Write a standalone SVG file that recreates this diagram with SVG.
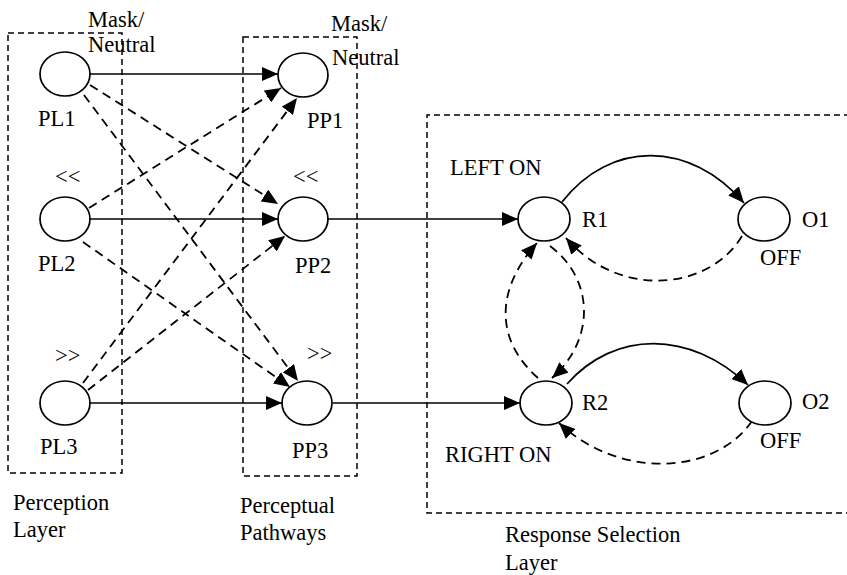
<svg xmlns="http://www.w3.org/2000/svg" width="847" height="575" viewBox="0 0 847 575">
<style>
text{font-family:"Liberation Serif","Times New Roman",serif;font-size:22.5px;fill:#000}
.n{fill:#fff;stroke:#000;stroke-width:1.7}
.box{fill:none;stroke:#000;stroke-width:1.5;stroke-dasharray:6 4}
.s{fill:none;stroke:#000;stroke-width:1.7}
.d{fill:none;stroke:#000;stroke-width:1.8;stroke-dasharray:9 6}
</style>
<defs>
<marker id="a" viewBox="0 0 16 14" refX="16" refY="7" markerWidth="16" markerHeight="14" orient="auto" markerUnits="userSpaceOnUse"><path d="M0,0 L16,7 L0,14 z" fill="#000"/></marker>
</defs>
<g id="boxes">
<rect class="box" x="8" y="33" width="114" height="440"/>
<rect class="box" x="243" y="37" width="114" height="439"/>
<path class="box" d="M850,115 H427 V513 H850"/>
</g>
<g id="connectors">
<path class="s" d="M90,74 H278" marker-end="url(#a)"/>
<path class="s" d="M90,219 H278" marker-end="url(#a)"/>
<path class="s" d="M90,403 H282" marker-end="url(#a)"/>
<path class="s" d="M328,219 H518" marker-end="url(#a)"/>
<path class="s" d="M333,403 H520" marker-end="url(#a)"/>
<path class="d" d="M90,85 L278,204" marker-end="url(#a)"/>
<path class="d" d="M84,95 L298,381" marker-end="url(#a)"/>
<path class="d" d="M89,208 L281,88" marker-end="url(#a)"/>
<path class="d" d="M83,383 L297,98" marker-end="url(#a)"/>
<path class="d" d="M88,390 L285,236" marker-end="url(#a)"/>
<path class="d" d="M83,242 L290,387" marker-end="url(#a)"/>
<path class="s" d="M562,202 C610,140 690,140 744,203" marker-end="url(#a)"/>
<path class="d" d="M742,236 C710,290 620,300 566,238" marker-end="url(#a)"/>
<path class="s" d="M567,384 C615,330 690,330 748,385" marker-end="url(#a)"/>
<path class="d" d="M752,421 C715,475 620,480 559,423" marker-end="url(#a)"/>
<path class="d" d="M538,378 C495,340 495,290 537,243" marker-end="url(#a)"/>
<path class="d" d="M550,246 C595,280 595,340 552,378" marker-end="url(#a)"/>
</g>
<g id="PL1"><ellipse class="n" cx="65" cy="74" rx="25" ry="22"/><text x="38" y="126">PL1</text></g>
<g id="PL2"><ellipse class="n" cx="65" cy="219" rx="25" ry="22"/><text x="38" y="271">PL2</text></g>
<g id="PL3"><ellipse class="n" cx="65" cy="403" rx="25" ry="22"/><text x="40" y="454">PL3</text></g>
<g id="PP1"><ellipse class="n" cx="303" cy="75" rx="25" ry="22"/><text x="307" y="128">PP1</text></g>
<g id="PP2"><ellipse class="n" cx="303" cy="219" rx="25" ry="22"/><text x="295" y="273">PP2</text></g>
<g id="PP3"><ellipse class="n" cx="307" cy="403" rx="25" ry="22"/><text x="292" y="458">PP3</text></g>
<g id="R1"><ellipse class="n" cx="544" cy="219" rx="26" ry="22"/><text x="582" y="227">R1</text></g>
<g id="O1"><ellipse class="n" cx="764" cy="219" rx="26" ry="22"/><text x="802" y="227">O1</text></g>
<g id="R2"><ellipse class="n" cx="546" cy="403" rx="26" ry="22"/><text x="582" y="410">R2</text></g>
<g id="O2"><ellipse class="n" cx="765" cy="403" rx="26" ry="22"/><text x="802" y="409">O2</text></g>
<g id="labels">
<text x="88" y="27">Mask/</text>
<text x="88" y="52">Neutral</text>
<text x="331" y="31">Mask/</text>
<text x="332" y="65">Neutral</text>
<text x="55" y="184">&lt;&lt;</text>
<text x="293" y="184">&lt;&lt;</text>
<text x="55" y="363">&gt;&gt;</text>
<text x="307" y="361">&gt;&gt;</text>
<text x="450" y="175">LEFT ON</text>
<text x="760" y="265">OFF</text>
<text x="445" y="462">RIGHT ON</text>
<text x="760" y="448">OFF</text>
<text x="13" y="510">Perception</text>
<text x="13" y="537">Layer</text>
<text x="240" y="513">Perceptual</text>
<text x="240" y="540">Pathways</text>
<text x="505" y="542">Response Selection</text>
<text x="505" y="570">Layer</text>
</g>
</svg>
